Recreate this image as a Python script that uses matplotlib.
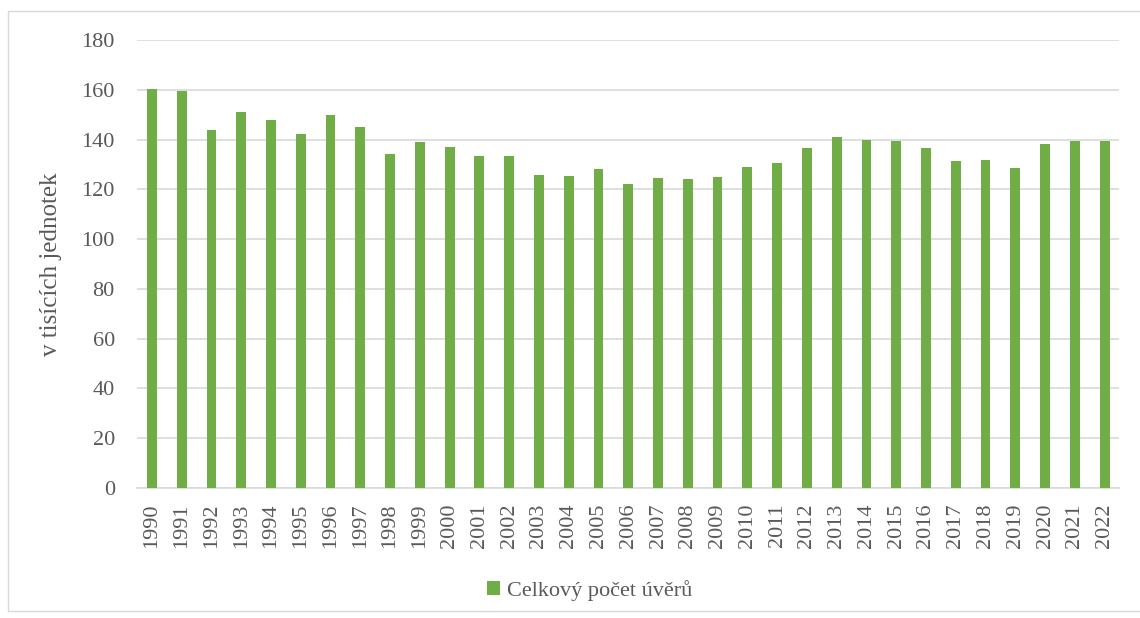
import matplotlib.pyplot as plt
from matplotlib.patches import Rectangle

years = [str(y) for y in range(1990, 2023)]
uvery = [160.5, 159.6, 144.0, 150.9, 148.0, 142.3, 149.9, 145.1, 134.2, 139.1,
         137.2, 133.3, 133.3, 125.9, 125.4, 128.2, 122.3, 124.6, 124.3, 125.1,
         129.0, 130.6, 136.4, 141.1, 140.0, 139.6, 136.5, 131.5, 131.9, 128.7,
         138.3, 139.5, 139.5]

plt.rcParams['font.family'] = ['Liberation Serif', 'DejaVu Serif']

fig = plt.figure(figsize=(11.4, 6.18), dpi=100)
ax = fig.add_axes([0.1202, 0.2104, 0.8618, 0.7249])

x = range(len(years))
ax.bar(x, uvery, width=0.33, color='#70AD47', label='Celkový počet úvěrů', zorder=3)

ax.set_xlim(-0.5, len(years) - 0.5)
ax.set_ylim(0, 180)
ax.set_yticks(range(0, 181, 20))
ax.set_xticks(list(x))
ax.set_xticklabels(years, rotation=90)
ax.grid(axis='y', color='#D9D9D9', linewidth=1.2, zorder=0)
for s in ['top', 'right', 'left']:
    ax.spines[s].set_visible(False)
ax.spines['bottom'].set_color('#D9D9D9')
ax.spines['bottom'].set_linewidth(1.2)
ax.tick_params(axis='both', length=0, colors='#595959', labelsize=16)
ax.tick_params(axis='y', pad=16)
ax.tick_params(axis='x', pad=11)
ax.set_ylabel('v tisících jednotek', fontsize=18, color='#595959', labelpad=14)

leg = fig.legend(loc='center', bbox_to_anchor=(0.517, 0.045), frameon=False,
                 fontsize=16, handlelength=0.6, handleheight=0.6, handletextpad=0.3)
for t in leg.get_texts():
    t.set_color('#595959')

fig.patches.append(Rectangle((8 / 1140, 0.012), 1.0, 0.97, transform=fig.transFigure,
                             fill=False, edgecolor='#D9D9D9', linewidth=1))

fig.savefig('out.png', dpi=100)
